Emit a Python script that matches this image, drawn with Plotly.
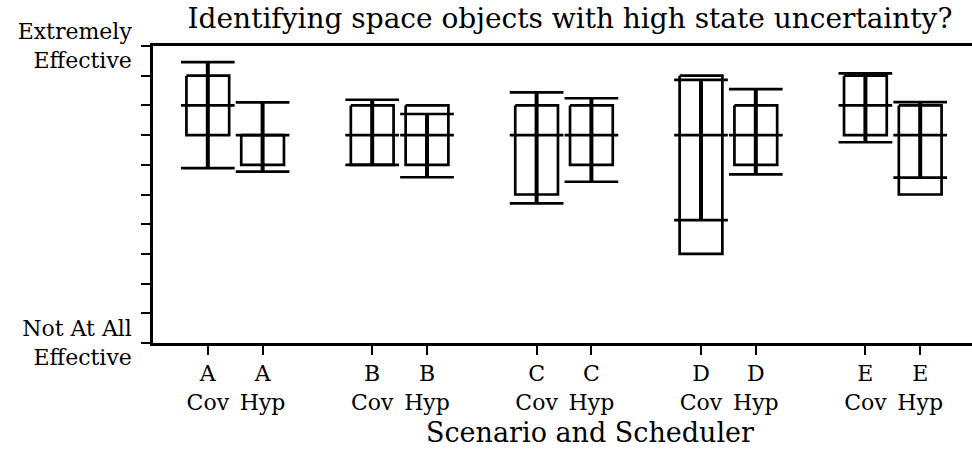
import plotly.graph_objects as go

# Survey responses per scenario and scheduler (0 = not at all, 10 = extremely effective)
scenarios = ["A", "B", "C", "D", "E"]
schedulers = ["Cov", "Hyp"]
positions = [1, 2, 4, 5, 7, 8, 10, 11, 13, 14]
tick_labels = [f"{s}<br>{k}" for s in scenarios for k in schedulers]

q1 = [7, 6, 6, 6, 5, 6, 3, 6, 7, 5]
median = [8, 7, 7, 7, 7, 7, 7, 7, 8, 7]
q3 = [9, 7, 8, 8, 8, 8, 9, 8, 9, 8]
err_low = [5.89, 5.77, 6.00, 5.58, 4.70, 5.43, 4.14, 5.68, 6.76, 5.57]
err_high = [9.46, 8.10, 8.19, 7.71, 8.44, 8.24, 8.86, 8.55, 9.08, 8.11]

y_tickvals = list(range(11))
y_ticktext = ["Not At All<br>Effective"] + [""] * 9 + ["Extremely<br>Effective"]

BOX_HALF = 0.39
CAP_HALF = 0.49
FONT = "DejaVu Serif"

# Box outlines (Q1..Q3)
bx, by = [], []
for p, lo, hi in zip(positions, q1, q3):
    bx += [p - BOX_HALF, p + BOX_HALF, p + BOX_HALF, p - BOX_HALF, p - BOX_HALF, None]
    by += [hi, hi, lo, lo, hi, None]

# Median lines and error-bar caps, all cap width
hx, hy = [], []
for p, m, lo, hi in zip(positions, median, err_low, err_high):
    for v in (m, lo, hi):
        hx += [p - CAP_HALF, p + CAP_HALF, None]
        hy += [v, v, None]

# Vertical error-bar stems
vx, vy = [], []
for p, lo, hi in zip(positions, err_low, err_high):
    vx += [p, p, None]
    vy += [lo, hi, None]

fig = go.Figure()
fig.add_trace(go.Scatter(x=bx, y=by, mode="lines", line=dict(color="black", width=2.7),
                         hoverinfo="skip", showlegend=False))
fig.add_trace(go.Scatter(x=hx, y=hy, mode="lines", line=dict(color="black", width=2.7),
                         hoverinfo="skip", showlegend=False))
fig.add_trace(go.Scatter(x=vx, y=vy, mode="lines", line=dict(color="black", width=4),
                         hoverinfo="skip", showlegend=False))

fig.update_layout(
    width=972, height=450,
    margin=dict(l=153, r=0, t=46, b=107),
    paper_bgcolor="white", plot_bgcolor="white",
    font=dict(family=FONT, color="black"),
    title=dict(text="Identifying space objects with high state uncertainty?",
               font=dict(family=FONT, size=28, color="black"),
               x=570 / 972, xanchor="center", xref="container",
               y=1 - 18 / 450, yanchor="middle", yref="container"),
    xaxis=dict(range=[0, 819 / 54.8], tickmode="array", tickvals=positions,
               ticktext=tick_labels, tickfont=dict(family=FONT, size=22, color="black"),
               showline=True, linecolor="black", linewidth=2.5, mirror=True,
               ticks="outside", ticklen=9, tickwidth=2, tickcolor="black",
               showgrid=False, zeroline=False),
    yaxis=dict(range=[0, 10], tickmode="array", tickvals=y_tickvals,
               ticktext=y_ticktext, tickfont=dict(family=FONT, size=22, color="black"),
               showline=True, linecolor="black", linewidth=2.5,
               ticks="outside", ticklen=9, tickwidth=2, tickcolor="black",
               ticklabelstandoff=5,
               showgrid=False, zeroline=False),
    annotations=[dict(text="Scenario and Scheduler", xref="paper", yref="paper",
                      x=(590 - 153) / 819, y=(343 - 432) / 297,
                      xanchor="center", yanchor="middle", showarrow=False,
                      font=dict(family=FONT, size=27, color="black"))],
)

fig.write_html("out.html")
